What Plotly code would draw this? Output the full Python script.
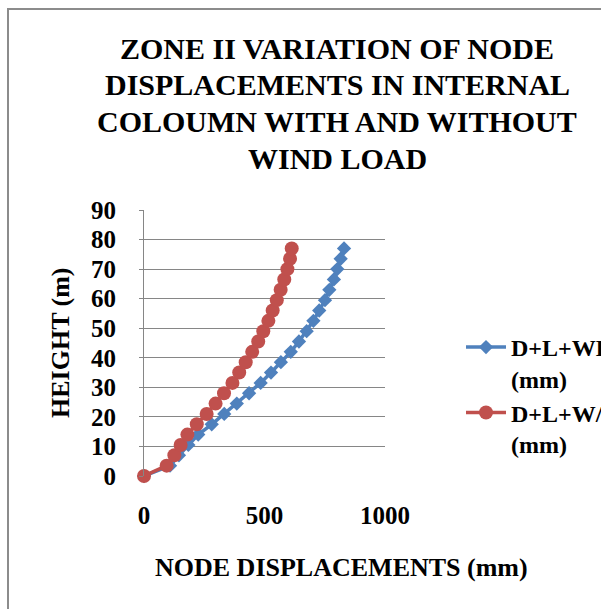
import plotly.graph_objects as go

heights = [0, 3.5, 7, 10.5, 14, 17.5, 21, 24.5, 28, 31.5, 35, 38.5, 42, 45.5, 49, 52.5, 56, 59.5, 63, 66.5, 70, 73.5, 77]
disp_with_wind = [0, 108, 145, 184, 225, 281, 333, 385, 436, 484, 527, 568, 609, 643, 675, 703, 727, 751, 769, 788, 802, 816, 830]
disp_without_wind = [0, 94, 126, 152, 180, 219, 260, 297, 332, 367, 395, 422, 449, 474, 495, 516, 534, 551, 567, 582, 595, 606, 613]
series_names = ["D+L+WL<br>(mm)", "D+L+W/O WL<br>(mm)"]
title_lines = ["ZONE II VARIATION OF NODE", "DISPLACEMENTS IN INTERNAL",
               "COLOUMN WITH AND WITHOUT", "WIND LOAD"]
x_ticks = [0, 500, 1000]
y_ticks = [0, 10, 20, 30, 40, 50, 60, 70, 80, 90]

FONT = "Liberation Serif"
W, H = 601, 609
L, R, T, B = 144, 216, 210, 133

fig = go.Figure()
fig.add_trace(go.Scatter(
    x=disp_with_wind, y=heights, name=series_names[0], mode="lines+markers",
    line=dict(color="#4F81BD", width=3.5),
    marker=dict(symbol="diamond", size=11, color="#4F81BD"),
    cliponaxis=False,
))
fig.add_trace(go.Scatter(
    x=disp_without_wind, y=heights, name=series_names[1], mode="lines+markers",
    line=dict(color="#C0504D", width=3.5),
    marker=dict(symbol="circle", size=14, color="#C0504D"),
    cliponaxis=False,
))

pw = W - L - R
ph = H - T - B
def px2x(px):
    return (px - L) / pw
def py2y(py):
    return (H - B - py) / ph

fig.update_layout(
    width=W, height=H,
    margin=dict(l=L, r=R, t=T, b=B, autoexpand=False),
    paper_bgcolor="white", plot_bgcolor="white",
    font=dict(family=FONT, color="black"),
    xaxis=dict(
        range=[0, 1000], tickvals=x_ticks, showgrid=False, zeroline=False,
        showline=False, ticks="", ticklabelstandoff=22,
        tickfont=dict(family=FONT, size=25, color="black", weight="bold"),
    ),
    yaxis=dict(
        range=[0, 90], tickvals=y_ticks, showgrid=True, gridcolor="#868686",
        gridwidth=1, zeroline=False, showline=True, linecolor="#868686",
        linewidth=1, ticks="outside", ticklen=4, tickcolor="#868686",
        ticklabelstandoff=18,
        tickfont=dict(family=FONT, size=25, color="black", weight="bold"),
    ),
    legend=dict(
        x=px2x(461), y=py2y(325), xanchor="left", yanchor="top",
        valign="top", font=dict(family=FONT, size=24, color="black", weight="bold"),
        bgcolor="rgba(0,0,0,0)", itemwidth=40,
    ),
    showlegend=True,
)

for i, line in enumerate(title_lines):
    fig.add_annotation(
        text="<b>" + line + "</b>", xref="paper", yref="paper",
        x=px2x(337), y=py2y(48 + i * 36.7), xanchor="center", yanchor="middle",
        showarrow=False, font=dict(family=FONT, size=30, color="black"),
    )

fig.add_annotation(
    text="<b>HEIGHT (m)</b>", textangle=-90, xref="paper", yref="paper",
    x=px2x(60), y=py2y(343), xanchor="center", yanchor="middle",
    showarrow=False, font=dict(family=FONT, size=26, color="black"),
)
fig.add_annotation(
    text="<b>NODE DISPLACEMENTS (mm)</b>", xref="paper", yref="paper",
    x=px2x(341), y=py2y(567), xanchor="center", yanchor="middle",
    showarrow=False, font=dict(family=FONT, size=26, color="black"),
)
fig.add_shape(
    type="rect", xref="paper", yref="paper",
    x0=px2x(8), y0=py2y(9), x1=px2x(620), y1=py2y(630),
    line=dict(color="#8c8c8c", width=2), layer="below",
)

fig.write_html("out.html")
